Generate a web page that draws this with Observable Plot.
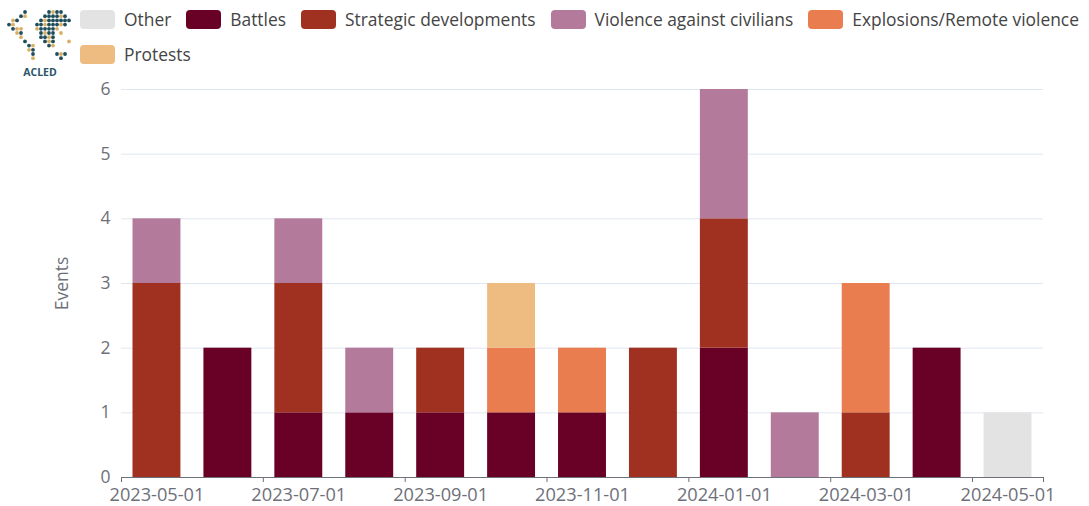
<!DOCTYPE html>
<html>
<head>
<meta charset="utf-8">
<script src="https://cdn.jsdelivr.net/npm/d3@7"></script>
<script src="https://cdn.jsdelivr.net/npm/@observablehq/plot@0.6"></script>
<style>
  html, body { margin: 0; padding: 0; background: #fff; }
  body { width: 1089px; height: 506px; overflow: hidden; font-family: "Open Sans", "Noto Sans", sans-serif; }
  #header { position: relative; height: 72px; }
  #logo { position: absolute; left: 5px; top: 4px; }
  #legend { position: absolute; left: 80px; top: 10px; width: 1040px; display: flex; flex-wrap: wrap; row-gap: 16px; }
  .item { display: flex; align-items: center; margin-right: 15px; white-space: nowrap; height: 19px; }
  .sw { width: 35px; height: 19px; border-radius: 4px; margin-right: 9px; }
  .lab { font-size: 17.4px; color: #444; line-height: 19px; }
</style>
</head>
<body>
<div id="header"><div id="logo"></div><div id="legend"></div></div>
<div id="chart"></div>
<script>
// ---- data ----
const months = ["2023-05-01","2023-06-01","2023-07-01","2023-08-01","2023-09-01","2023-10-01","2023-11-01","2023-12-01","2024-01-01","2024-02-01","2024-03-01","2024-04-01","2024-05-01"];
const types = ["Other","Battles","Strategic developments","Violence against civilians","Explosions/Remote violence","Protests"];
const colors = ["#e3e3e3","#690026","#a0301f","#b37a9b","#ea7d4f","#eebb80"];
const other      = [0,0,0,0,0,0,0,0,0,0,0,0,1];
const battles    = [0,2,1,1,1,1,1,0,2,0,0,2,0];
const strategic  = [3,0,2,0,1,0,0,2,2,0,1,0,0];
const civilians  = [1,0,1,1,0,0,0,0,2,1,0,0,0];
const explosions = [0,0,0,0,0,1,1,0,0,0,2,0,0];
const protests   = [0,0,0,0,0,1,0,0,0,0,0,0,0];
const yTicks = [0,1,2,3,4,5,6];

const series = [other, battles, strategic, civilians, explosions, protests];
const table = [];
series.forEach((vals, t) => vals.forEach((v, k) => {
  if (v > 0) table.push({k, k2: k + 1, type: types[t], count: v});
}));

// label positions (band centers, every other month) and tick positions (band edges)
const labelPos = months.map((m, k) => k + 0.5).filter((p, k) => k % 2 === 0);
const tickPos = months.map((m, k) => k).filter(k => k % 2 === 0).concat([months.length]);

const chart = Plot.plot({
  width: 1089,
  height: 434,
  marginTop: 17,
  marginBottom: 29,
  marginLeft: 121,
  marginRight: 46,
  style: {fontFamily: "'Open Sans', 'Noto Sans', sans-serif", fontSize: "16px", color: "#6e7079"},
  x: {type: "linear", domain: [0, months.length]},
  y: {domain: [0, 6]},
  color: {domain: types, range: colors},
  marks: [
    Plot.gridY(yTicks.filter(d => d > 0), {stroke: "#e0e6f1", strokeOpacity: 1, strokeWidth: 1}),
    Plot.rectY(table, Plot.stackY({x1: "k", x2: "k2", y: "count", fill: "type", order: types, insetLeft: 11.5, insetRight: 11.5})),
    Plot.ruleY([0], {stroke: "#6e7079", strokeWidth: 1}),
    Plot.axisX({ticks: tickPos, tickSize: 5, tickFormat: () => "", stroke: "#6e7079", label: null}),
    Plot.axisX({ticks: labelPos, tickSize: 0, tickPadding: 11, tickFormat: p => months[p - 0.5], fill: "#6e7079", fontSize: 18.2, label: null}),
    Plot.axisY({ticks: yTicks, tickSize: 0, tickPadding: 11, tickFormat: d3.format("d"), fontSize: 17.5, fill: "#6e7079", label: "Events", labelAnchor: "center", labelOffset: 66, labelArrow: "none"})
  ]
});
document.getElementById("chart").appendChild(chart);

// ---- legend ----
const legend = d3.select("#legend");
types.forEach((t, i) => {
  const it = legend.append("div").attr("class", "item");
  it.append("div").attr("class", "sw").style("background", colors[i]);
  it.append("span").attr("class", "lab").text(t);
});

// ---- logo (decorative dot map) ----
const logoRows = [
  "....t.....tgtt...",
  "...tg....ttttgt..",
  ".gt.....tgtttttt.",
  "tg.....ttgtttgt..",
  ".tgg...gttttg....",
  "..gt....tgtt.g...",
  "...g....ttgt.....",
  "....t....tgt...g.",
  ".....tg...tg.....",
  ".....gt..........",
  "......t.....tgt..",
  "......g......t..."
];
const svgL = d3.select("#logo").append("svg").attr("width", 72).attr("height", 75);
logoRows.forEach((row, r) => [...row].forEach((c, j) => {
  if (c !== ".") svgL.append("circle").attr("cx", 4 + j * 4).attr("cy", 8 + r * 4.2).attr("r", 1.9)
    .attr("fill", c === "t" ? "#1e4d5c" : "#d8b063");
}));
svgL.append("text").attr("x", 35).attr("y", 72).attr("text-anchor", "middle")
  .attr("font-size", 10.5).attr("font-weight", "bold").attr("fill", "#2a5568")
  .attr("font-family", "'Open Sans', sans-serif").text("ACLED");
</script>
</body>
</html>
